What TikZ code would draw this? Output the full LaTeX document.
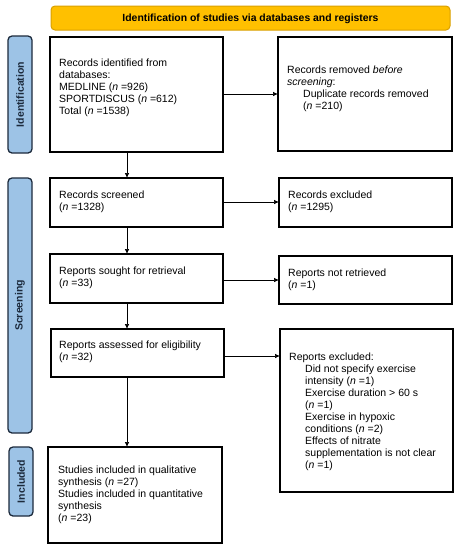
\documentclass[tikz,border=0pt]{standalone}
\usepackage{fontspec}
\setmainfont{Liberation Sans}
\usetikzlibrary{arrows.meta}
\definecolor{hdrfill}{HTML}{FFC000}
\definecolor{hdrdraw}{HTML}{D9A000}
\definecolor{sidefill}{HTML}{9DC3E6}
\definecolor{sidedraw}{HTML}{1C2A3C}
\begin{document}
\begin{tikzpicture}[x=1pt,y=-1pt,
  box/.style={draw=black,line width=1.2pt,fill=white},
  txt/.style={anchor=west,align=left,inner sep=0pt,font=\fontsize{10.5}{12}\selectfont},
  side/.style={draw=sidedraw,fill=sidefill,line width=1.3pt,rounded corners=4pt},
  sidetxt/.style={rotate=90,font=\bfseries\fontsize{10.5}{12}\selectfont,text=sidedraw,inner sep=0pt},
  arr/.style={line width=0.7pt,-{Latex[length=5pt,width=4.5pt]}}]
\useasboundingbox (0,0) rectangle (459,550);
% header
\draw[draw=hdrdraw,fill=hdrfill,line width=1pt,rounded corners=4pt] (51,6) rectangle (450,30);
\node[font=\bfseries\fontsize{10.4}{12}\selectfont,inner sep=0pt] (hdr) at (250.5,18.5) {Identification of studies via databases and registers};
% side labels
\draw[side] (8,36) rectangle (32,153);
\node[sidetxt] (sid) at (20,94.5) {Identification};
\draw[side] (8,178) rectangle (32,433);
\node[sidetxt] (ssc) at (20,305.5) {Screening};
\draw[side] (9,447) rectangle (33,516);
\node[sidetxt] (sin) at (21,481.5) {Included};
% boxes
\draw[box] (50,37) rectangle (223,152);
\draw[box] (278,37) rectangle (452,151);
\draw[box] (50,178) rectangle (223,227);
\draw[box] (279,178) rectangle (452,227);
\draw[box] (50,254) rectangle (223,303);
\draw[box] (279,256) rectangle (452,304);
\draw[box] (51,329) rectangle (224,377);
\draw[box] (280,329) rectangle (453,492);
\draw[box] (48,447) rectangle (222,543);
% named anchors
\coordinate (b1r) at (223,94); \coordinate (b2l) at (278,94);
\coordinate (b1b) at (127,152); \coordinate (b3t) at (127,178);
\coordinate (b3r) at (223,202); \coordinate (b4l) at (279,202);
\coordinate (b3b) at (127,227); \coordinate (b5t) at (127,254);
\coordinate (b5r) at (223,280); \coordinate (b6l) at (279,280);
\coordinate (b5b) at (127,303); \coordinate (b7t) at (127,329);
\coordinate (b7r) at (224,356); \coordinate (b8l) at (280,356);
\coordinate (b7b) at (127,377); \coordinate (b9t) at (127,447);
% texts
\node[txt] (t1) at (59,88) {Records identified from\\databases:\\MEDLINE (\textit{n} =926)\\SPORTDISCUS (\textit{n} =612)\\Total (\textit{n} =1538)};
\node[txt] (t2) at (287,89) {Records removed \textit{before}\\\textit{screening}:\\\hspace*{16pt}Duplicate records removed\\\hspace*{16pt}(\textit{n} =210)};
\node[txt] (t3) at (59,202) {Records screened\\(\textit{n} =1328)};
\node[txt] (t4) at (288,202) {Records excluded\\(\textit{n} =1295)};
\node[txt] (t5) at (59,278) {Reports sought for retrieval\\(\textit{n} =33)};
\node[txt] (t6) at (288,280) {Reports not retrieved\\(\textit{n} =1)};
\node[txt] (t7) at (59,352) {Reports assessed for eligibility\\(\textit{n} =32)};
\node[txt] (t8) at (289,412) {Reports excluded:\\\hspace*{16pt}Did not specify exercise\\\hspace*{16pt}intensity (\textit{n} =1)\\\hspace*{16pt}Exercise duration > 60 s\\\hspace*{16pt}(\textit{n} =1)\\\hspace*{16pt}Exercise in hypoxic\\\hspace*{16pt}conditions (\textit{n} =2)\\\hspace*{16pt}Effects of nitrate\\\hspace*{16pt}supplementation is not clear\\\hspace*{16pt}(\textit{n} =1)};
\node[txt] (t9) at (58,495) {Studies included in qualitative\\synthesis (\textit{n} =27)\\Studies included in quantitative\\synthesis\\(\textit{n} =23)};
% arrows
\draw[arr] (b1r) -- (b2l);
\draw[arr] (b1b) -- (b3t);
\draw[arr] (b3r) -- (b4l);
\draw[arr] (b3b) -- (b5t);
\draw[arr] (b5r) -- (b6l);
\draw[arr] (b5b) -- (b7t);
\draw[arr] (b7r) -- (b8l);
\draw[arr] (b7b) -- (b9t);
\end{tikzpicture}
\end{document}
